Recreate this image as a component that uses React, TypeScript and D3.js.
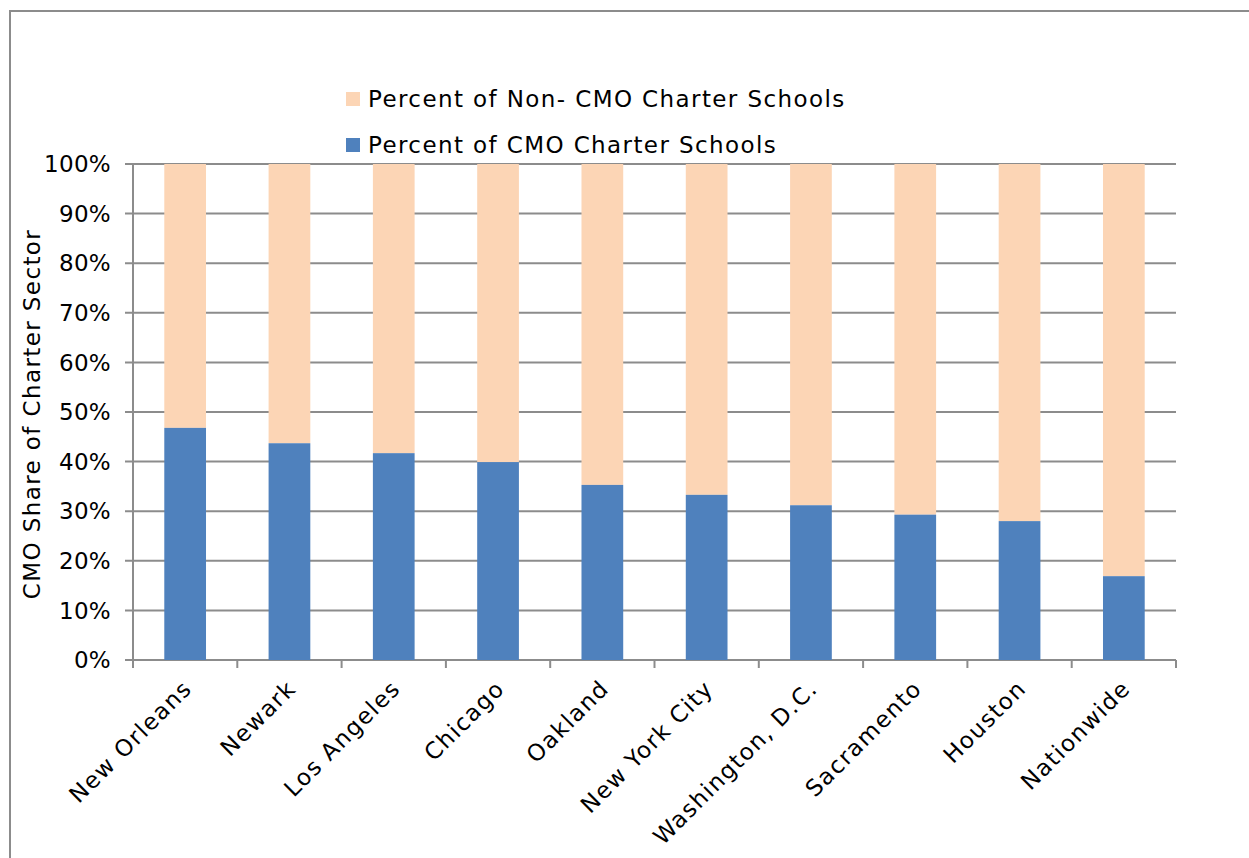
import React from "react";
import * as d3 from "d3";

const categories = ["New Orleans", "Newark", "Los Angeles", "Chicago", "Oakland", "New York City", "Washington, D.C.", "Sacramento", "Houston", "Nationwide"];
const cmoPercent = [46.8, 43.7, 41.7, 39.9, 35.3, 33.3, 31.2, 29.3, 28.0, 16.9];
const yTicks = [0, 10, 20, 30, 40, 50, 60, 70, 80, 90, 100];
const seriesNames = ["Percent of Non- CMO Charter Schools", "Percent of CMO Charter Schools"];

const W = 1249;
const H = 858;
const left = 133, right = 1176, top = 164, bottom = 660;
const BLUE = "#4F81BD";
const PEACH = "#FCD5B5";
const GRID = "#8C8C8C";
const FONT = "'DejaVu Sans', sans-serif";

export default function App() {
  const x = d3.scaleBand<string>().domain(categories).range([left, right]).paddingInner(0.6).paddingOuter(0.3);
  const xb = d3.scaleBand<string>().domain(categories).range([left, right]);
  const y = d3.scaleLinear().domain([0, 100]).range([bottom, top]);
  const bw = x.bandwidth();
  const ls = 1.4;

  return (
    <svg width={W} height={H} style={{ position: "absolute", left: 0, top: 0, background: "#fff" }} fontFamily={FONT}>
      <rect x={10} y={11} width={W + 20} height={H + 20} fill="none" stroke={GRID} strokeWidth={2} />
      {yTicks.map((t) => (
        <g key={t}>
          <line x1={left - 8} x2={right} y1={y(t)} y2={y(t)} stroke={GRID} strokeWidth={2} />
          <text x={left - 22} y={y(t)} dy="0.36em" textAnchor="end" fontSize={23} letterSpacing={0.3} fill="#000">{t}%</text>
        </g>
      ))}
      <line x1={left} x2={left} y1={top} y2={bottom} stroke={GRID} strokeWidth={2} />
      {categories.map((c, i) => (
        <g key={c}>
          <rect x={x(c)} y={top} width={bw} height={y(cmoPercent[i]) - top} fill={PEACH} />
          <rect x={x(c)} y={y(cmoPercent[i])} width={bw} height={bottom - y(cmoPercent[i])} fill={BLUE} />
        </g>
      ))}
      {[...categories.map((c) => xb(c) as number), right].map((tx, i) => (
        <line key={i} x1={tx} x2={tx} y1={bottom} y2={bottom + 8} stroke={GRID} strokeWidth={2} />
      ))}
      {categories.map((c) => {
        const cx = (xb(c) as number) + xb.bandwidth() / 2 + 8;
        const cy = bottom + 30;
        return (
          <text key={c} x={cx} y={cy} textAnchor="end" fontSize={23} letterSpacing={ls} fill="#000" transform={`rotate(-45, ${cx}, ${cy})`}>{c}</text>
        );
      })}
      <text x={32} y={(top + bottom) / 2 + 2} textAnchor="middle" fontSize={23} letterSpacing={ls} fill="#000" transform={`rotate(-90, 32, ${(top + bottom) / 2 + 2})`} dy="0.36em">CMO Share of Charter Sector</text>
      {seriesNames.map((s, i) => (
        <g key={s}>
          <rect x={346} y={92 + i * 46} width={14} height={14} fill={i === 0 ? PEACH : BLUE} />
          <text x={368} y={107 + i * 46} fontSize={23} letterSpacing={ls} fill="#000">{s}</text>
        </g>
      ))}
    </svg>
  );
}
